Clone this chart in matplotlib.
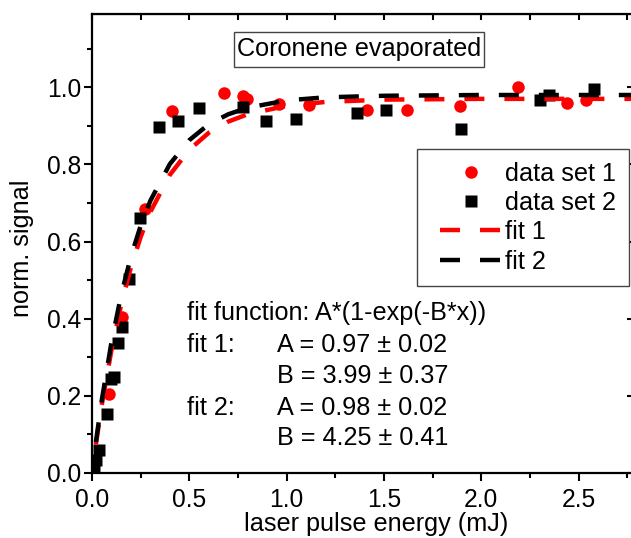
import matplotlib
matplotlib.use("Agg")
import matplotlib.pyplot as plt
from matplotlib.ticker import MultipleLocator
from matplotlib.lines import Line2D
from matplotlib.patches import Rectangle
from matplotlib.legend_handler import HandlerLine2D

plt.rcParams["font.family"] = ["Liberation Sans", "DejaVu Sans"]

# data set 1 (red circles)
x1 = [0.087, 0.154, 0.272, 0.41, 0.68, 0.776, 0.797, 0.96, 1.115, 1.413, 1.62,
      1.89, 2.19, 2.44, 2.54]
y1 = [0.204, 0.405, 0.685, 0.938, 0.985, 0.977, 0.970, 0.957, 0.954, 0.941, 0.941,
      0.952, 1.0, 0.96, 0.967]

# data set 2 (black squares)
x2 = [0.01, 0.02, 0.036, 0.077, 0.098, 0.115, 0.134, 0.154, 0.19, 0.247, 0.344,
      0.442, 0.55, 0.776, 0.894, 1.048, 1.36, 1.51, 1.896, 2.30, 2.35, 2.58]
y2 = [0.008, 0.034, 0.06, 0.152, 0.245, 0.248, 0.337, 0.379, 0.502, 0.66, 0.897,
      0.912, 0.946, 0.949, 0.912, 0.918, 0.933, 0.941, 0.891, 0.967, 0.98, 0.996]

# fit curves
xf = [0.02, 0.05, 0.1, 0.15, 0.2, 0.25, 0.3, 0.4, 0.5, 0.6, 0.7, 0.8, 1.0, 1.2,
      1.5, 2.0, 2.8]
yf1 = [0.074, 0.176, 0.319, 0.437, 0.533, 0.612, 0.677, 0.773, 0.838, 0.882, 0.911,
       0.930, 0.952, 0.962, 0.968, 0.970, 0.970]
yf2 = [0.080, 0.188, 0.339, 0.462, 0.561, 0.641, 0.706, 0.801, 0.863, 0.904, 0.930,
       0.947, 0.966, 0.974, 0.978, 0.980, 0.980]

fit_lines = ["fit function: A*(1-exp(-B*x))", "fit 1:", "fit 2:"]
fit_vals = ["A = 0.97 \u00b1 0.02", "B = 3.99 \u00b1 0.37",
            "A = 0.98 \u00b1 0.02", "B = 4.25 \u00b1 0.41"]

FS = 18.2

fig = plt.figure(figsize=(6.31, 5.38), dpi=100)
ax = fig.add_axes([92 / 631, 65 / 538, 541 / 631, 459 / 538])

ax.plot(x1, y1, "o", color="red", ms=9, mec="none", label="data set 1", zorder=3)
ax.plot(x2, y2, "s", color="black", ms=8.5, mec="none", label="data set 2", zorder=3)
ax.plot(xf, yf1, color="red", lw=3.2, dashes=(4.5, 4.5), label="fit 1", zorder=4)
ax.plot(xf, yf2, color="black", lw=3.2, dashes=(4.5, 4.5), label="fit 2", zorder=4)

ax.set_xlim(0, 2.78)
ax.set_ylim(0, 1.19)
ax.xaxis.set_major_locator(MultipleLocator(0.5))
ax.xaxis.set_minor_locator(MultipleLocator(0.25))
ax.yaxis.set_major_locator(MultipleLocator(0.2))
ax.yaxis.set_minor_locator(MultipleLocator(0.1))
ax.xaxis.set_major_formatter(lambda v, p: f"{v:.1f}")
ax.yaxis.set_major_formatter(lambda v, p: f"{v:.1f}")
ax.tick_params(which="major", direction="out", length=6, width=1.5,
               labelsize=FS - 0.5, pad=5)
ax.tick_params(which="minor", direction="out", length=3.5, width=1.5)
ax.tick_params(axis="y", which="major", pad=2)
for s in ax.spines.values():
    s.set_linewidth(1.6)

top = ax.secondary_xaxis("top")
top.xaxis.set_major_locator(MultipleLocator(0.25))
top.tick_params(direction="in", length=4, width=1.5, labeltop=False)
right = ax.secondary_yaxis("right")
right.yaxis.set_major_locator(MultipleLocator(0.2))
right.tick_params(direction="in", length=4, width=1.5, labelright=False)

ax.set_xlabel("laser pulse energy (mJ)", fontsize=FS)
ax.set_ylabel("norm. signal", fontsize=FS)
ax.xaxis.set_label_coords(0.525, -0.086)
ax.yaxis.set_label_coords(-0.108, 0.49)

# title box
ax.add_patch(Rectangle((0.2625, 0.8845), 0.4621, 0.0763, transform=ax.transAxes,
                       fc="white", ec="#444444", lw=1, zorder=5))
ax.text(0.4935, 0.9227, "Coronene evaporated", transform=ax.transAxes,
        ha="center", va="center", fontsize=FS, zorder=6)

dy = -0.0065
ax.text(0.1756, 0.355 + dy, fit_lines[0], transform=ax.transAxes, va="center", fontsize=FS)
ax.text(0.1756, 0.285 + dy, fit_lines[1], transform=ax.transAxes, va="center", fontsize=FS)
ax.text(0.1756, 0.148 + dy, fit_lines[2], transform=ax.transAxes, va="center", fontsize=FS)
for yy, t in zip([0.285, 0.218, 0.148, 0.083], fit_vals):
    ax.text(0.342, yy + dy, t, transform=ax.transAxes, va="center", fontsize=FS)

leg = ax.legend(loc="upper left", bbox_to_anchor=(0.6007, 0.706), fontsize=FS,
                frameon=True, fancybox=False, framealpha=1, edgecolor="#444444",
                numpoints=1, handlelength=2.9, handletextpad=0.1,
                labelspacing=0.21, borderpad=0.5, borderaxespad=0,
                handler_map={Line2D: HandlerLine2D(xpad=0.4)})
leg.get_frame().set_linewidth(1)

fig.savefig("out.png", dpi=100)
